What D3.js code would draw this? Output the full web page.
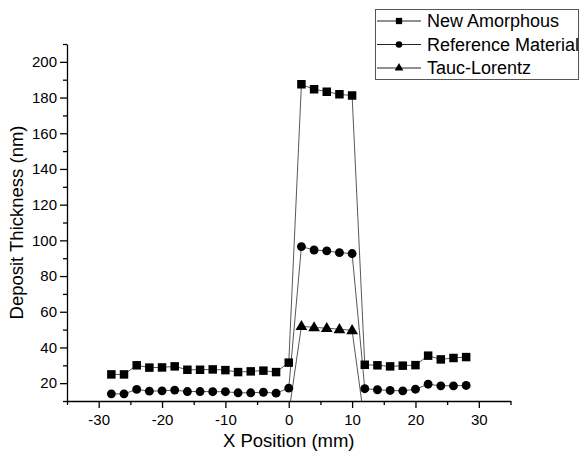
<!DOCTYPE html>
<html>
<head>
<meta charset="utf-8">
<script src="https://cdn.jsdelivr.net/npm/d3@7"></script>
<style>
  html, body { margin: 0; padding: 0; background: #fff; }
  svg { display: block; font-family: "Liberation Sans", Arial, sans-serif; }
</style>
</head>
<body>
<svg id="chart" width="582" height="457"></svg>
<script>
// ---- data ----
const xPositions = [-28, -26, -24, -22, -20, -18, -16, -14, -12, -10, -8, -6, -4, -2, 0,
                    2, 4, 6, 8, 10, 12, 14, 16, 18, 20, 22, 24, 26, 28];
const newAmorphous = [24.9, 24.9, 30.0, 28.7, 28.8, 29.4, 27.5, 27.5, 27.7, 27.3, 26.2, 26.6, 27.0, 26.2, 31.5,
                      187.4, 184.6, 183.3, 181.8, 181.1, 30.3, 30.0, 29.4, 29.8, 30.1, 35.4, 33.3, 34.1, 34.6];
const referenceMaterial = [14.0, 14.0, 16.5, 15.5, 15.7, 16.1, 15.3, 15.3, 15.2, 15.2, 14.6, 14.6, 14.9, 14.4, 17.2,
                           96.5, 94.6, 94.1, 93.1, 92.6, 16.9, 16.3, 15.9, 15.7, 16.6, 19.4, 18.5, 18.5, 18.7];
const taucLorentz = [2, 2, 3, 3, 3, 3, 2, 2, 2, 2, 2, 2, 2, 2, 3,
                     51.9, 51.2, 50.8, 50.2, 49.6, -3, -3, -3, -3, -3, -2, -2, -2, -2];
const seriesNames = ["New Amorphous", "Reference Material", "Tauc-Lorentz"];
const seriesSymbols = ["square", "circle", "triangle"];
const xTickValues = [-30, -20, -10, 0, 10, 20, 30];
const xMinorTicks = [-35, -25, -15, -5, 5, 15, 25, 35];
const yTickValues = [20, 40, 60, 80, 100, 120, 140, 160, 180, 200];
const yMinorTicks = [10, 30, 50, 70, 90, 110, 130, 150, 170, 190, 210];
const xTitle = "X Position (mm)";
const yTitle = "Deposit Thickness (nm)";

// ---- layout ----
const svg = d3.select("#chart");
const plotLeft = 67, plotRight = 510.5, plotTop = 44, plotBottom = 401;
const x = d3.scaleLinear().domain([-35, 35]).range([plotLeft, plotRight]);
const y = d3.scaleLinear().domain([10, 210]).range([plotBottom, plotTop]);

svg.append("defs").append("clipPath").attr("id", "plotclip")
  .append("rect").attr("x", plotLeft).attr("y", plotTop - 10)
  .attr("width", plotRight - plotLeft).attr("height", plotBottom - plotTop + 10);

const seriesValues = [newAmorphous, referenceMaterial, taucLorentz];
const series = seriesNames.map((name, i) => ({
  name, symbol: seriesSymbols[i],
  points: xPositions.map((xv, j) => ({ x: xv, y: seriesValues[i][j] }))
}));

const symbolTypes = { square: d3.symbolSquare, circle: d3.symbolCircle, triangle: d3.symbolTriangle };
const symbolSizes = { square: 72, circle: 62, triangle: 60 };

const plot = svg.append("g").attr("clip-path", "url(#plotclip)");
const line = d3.line().x(d => x(d.x)).y(d => y(d.y));

series.forEach(s => {
  plot.append("path").datum(s.points)
    .attr("d", line)
    .attr("fill", "none")
    .attr("stroke", "#444")
    .attr("stroke-width", 0.9);
});
series.forEach(s => {
  const sym = d3.symbol().type(symbolTypes[s.symbol]).size(symbolSizes[s.symbol]);
  plot.selectAll(null).data(s.points).enter().append("path")
    .attr("d", sym)
    .attr("transform", d => `translate(${x(d.x)},${y(d.y) + (s.symbol === "triangle" ? 0.5 : 0)})`)
    .attr("fill", "#000");
});

// ---- axes ----
svg.append("g").attr("transform", `translate(0,${plotBottom})`)
  .call(d3.axisBottom(x).tickValues(xTickValues).tickSize(7).tickSizeOuter(0).tickPadding(6)
        .tickFormat(d => d < 0 ? "-" + Math.abs(d) : String(d)));
svg.append("g").attr("transform", `translate(0,${plotBottom})`)
  .call(d3.axisBottom(x).tickValues(xMinorTicks).tickSize(4).tickSizeOuter(0).tickFormat(""))
  .select(".domain").remove();

svg.append("g").attr("transform", `translate(${plotLeft},0)`)
  .call(d3.axisLeft(y).tickValues(yTickValues).tickSize(7).tickSizeOuter(0).tickPadding(3));
svg.append("g").attr("transform", `translate(${plotLeft},0)`)
  .call(d3.axisLeft(y).tickValues(yMinorTicks).tickSize(4).tickSizeOuter(0).tickFormat(""))
  .select(".domain").remove();

svg.selectAll(".domain").attr("stroke", "#000").attr("stroke-width", 1.3);
svg.selectAll(".tick line").attr("stroke", "#000").attr("stroke-width", 1.3);
svg.selectAll(".tick text").attr("font-size", 15).attr("fill", "#000")
  .attr("font-family", "Liberation Sans, Arial, sans-serif");

svg.append("text").attr("x", (plotLeft + plotRight) / 2).attr("y", 447)
  .attr("text-anchor", "middle").attr("font-size", 18.5).attr("fill", "#000").text(xTitle);
svg.append("text").attr("transform", `translate(23,${(plotTop + plotBottom) / 2}) rotate(-90)`)
  .attr("text-anchor", "middle").attr("font-size", 18.5).attr("fill", "#000").text(yTitle);

// ---- legend ----
const legend = svg.append("g");
legend.append("rect").attr("x", 375.5).attr("y", 9.5).attr("width", 203).attr("height", 70)
  .attr("fill", "#fff").attr("stroke", "#555").attr("stroke-width", 1);
series.forEach((s, i) => {
  const cy = 21 + i * 23.5;
  legend.append("line").attr("x1", 377).attr("x2", 421).attr("y1", cy).attr("y2", cy)
    .attr("stroke", "#222").attr("stroke-width", 1);
  legend.append("path")
    .attr("d", d3.symbol().type(symbolTypes[s.symbol]).size(symbolSizes[s.symbol] * 0.55)())
    .attr("transform", `translate(399,${cy})`).attr("fill", "#000");
  legend.append("text").attr("x", 427).attr("y", cy).attr("dy", "0.36em")
    .attr("font-size", 18).attr("fill", "#000").text(s.name);
});
</script>
</body>
</html>
